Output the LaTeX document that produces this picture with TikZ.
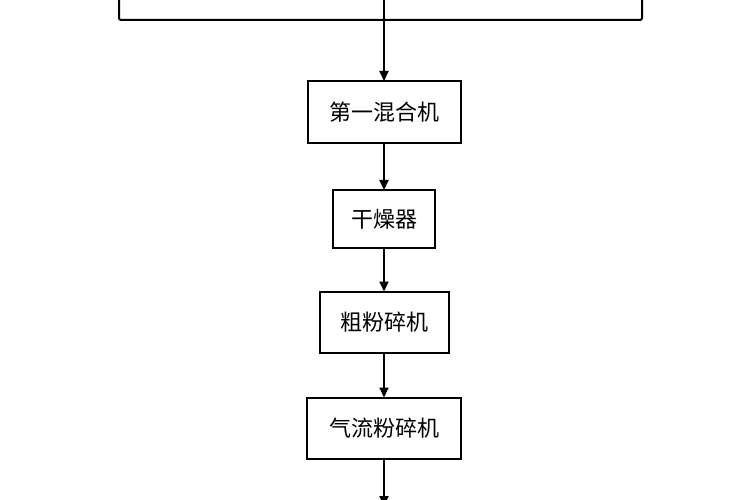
\documentclass[tikz,border=0pt]{standalone}
\usepackage{fontspec}
\newfontfamily\cjk{Noto Sans CJK SC}
\usetikzlibrary{arrows.meta}

\begin{document}
\begin{tikzpicture}[x=1pt,y=-1pt,
  every node/.style={draw, line width=2pt, outer sep=0pt, font=\cjk\fontsize{22}{26}\selectfont},
  flow/.style={line width=2pt,-{Triangle[length=10pt,width=9pt]}}]

% frame of the page
\clip (0,0) rectangle (750,500);
\useasboundingbox (0,0) rectangle (750,500);

% top box, cut off by the page edge
\draw[line width=2pt, rounded corners=2pt] (119,-20) -- (119,20) -- (642,20) -- (642,-20);

% process boxes
\node (mixer)  [minimum width=153pt, minimum height=62pt] at (384,112) {第一混合机};
\node (dryer)  [minimum width=102pt, minimum height=58pt] at (384,219) {干燥器};
\node (coarse) [minimum width=129pt, minimum height=61pt] at (384,322) {粗粉碎机};
\node (jet)    [minimum width=154pt, minimum height=61pt] at (384,428) {气流粉碎机};

\coordinate (in)  at (384,-5);
\coordinate (out) at (384,506);

% wiring
\draw[flow] (in) -- (mixer);
\draw[flow] (mixer) -- (dryer);
\draw[flow] (dryer) -- (coarse);
\draw[flow] (coarse) -- (jet);
\draw[flow] (jet) -- (out);

\end{tikzpicture}
\end{document}
